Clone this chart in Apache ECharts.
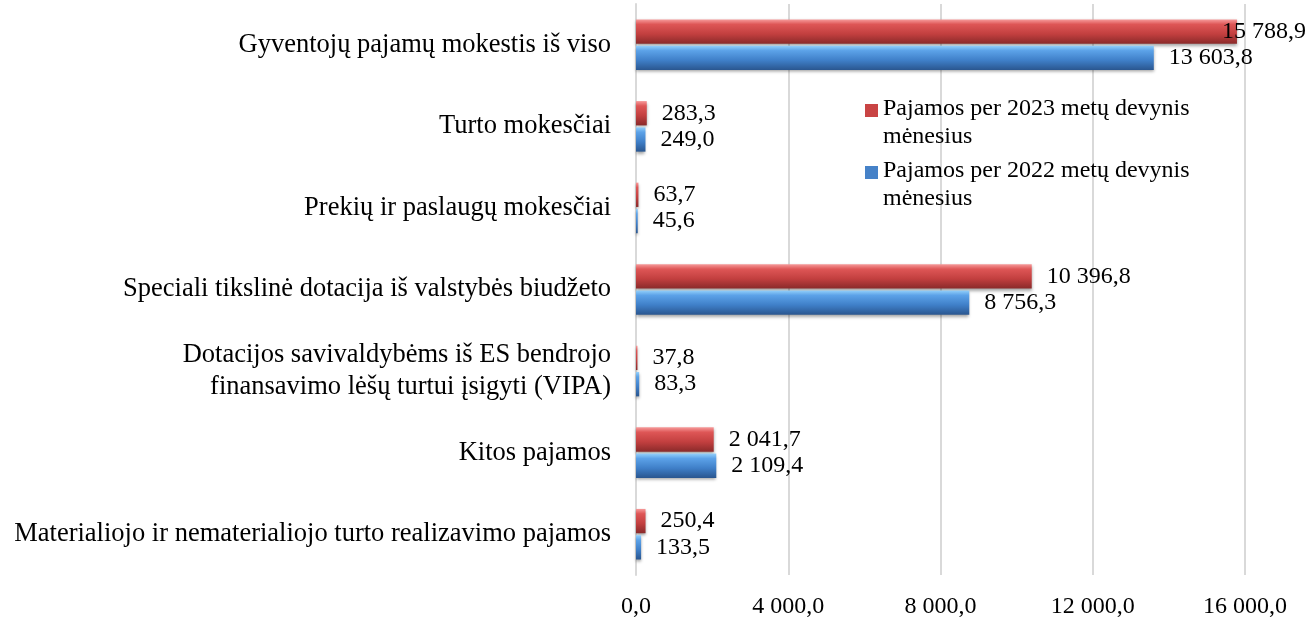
<!DOCTYPE html>
<html>
<head>
<meta charset="utf-8">
<script src="https://cdn.jsdelivr.net/npm/echarts@6/dist/echarts.min.js"></script>
<style>
    html, body {margin: 0; padding: 0; background: #fff;}
    #chart {width: 1309px; height: 619px;}
</style>
</head>
<body>
<div id="chart"></div>
<script>
const categories = [
    'Gyventojų pajamų mokestis iš viso',
    'Turto mokesčiai',
    'Prekių ir paslaugų mokesčiai',
    'Speciali tikslinė dotacija iš valstybės biudžeto',
    'Dotacijos savivaldybėms iš ES bendrojo\nfinansavimo lėšų turtui įsigyti (VIPA)',
    'Kitos pajamos',
    'Materialiojo ir nematerialiojo turto realizavimo pajamos'
];
const values2023 = [15788.9, 283.3, 63.7, 10396.8, 37.8, 2041.7, 250.4];
const values2022 = [13603.8, 249.0, 45.6, 8756.3, 83.3, 2109.4, 133.5];
const seriesNames = [
    'Pajamos per 2023 metų devynis mėnesius',
    'Pajamos per 2022 metų devynis mėnesius'
];

// 1 234,5 style
function fmt(v)
{
    let parts = v.toFixed(1).split('.');
    return parts[0].replace(/\B(?=(\d{3})+(?!\d))/g, ' ') + ',' + parts[1];
}

function grad(c)
{
    return new echarts.graphic.LinearGradient(0, 0, 0, 1, [
        {offset: 0, color: c[0]},
        {offset: 0.2, color: c[1]},
        {offset: 0.6, color: c[2]},
        {offset: 1, color: c[3]}
    ]);
}

const redShades = ['#f69a9a', '#de5656', '#c23f3f', '#8a2a2a'];
const blueShades = ['#92cffa', '#5ca2e8', '#3f7fc8', '#2a568f'];

const font = '"Liberation Serif", "Times New Roman", serif';
// square sitting at the first text line, with invisible anchor points to stretch the box
const legendIcon = 'path://M0,0L0.01,0M0,8h13v13h-13zM0,54L0.01,54';

let chart = echarts.init(document.getElementById('chart'));

function labelOpt()
{
    return {
        show: true,
        position: 'right',
        distance: 15,
        formatter: function (p) { return fmt(p.value); },
        color: '#000',
        fontSize: 24,
        fontFamily: font
    };
}

let option = {
    animation: false,
    textStyle: {fontFamily: font},
    grid: {left: 636, right: 64, top: 4, bottom: 41},
    legend: {
        orient: 'vertical',
        left: 860,
        top: 90,
        itemWidth: 13,
        itemHeight: 54,
        itemGap: 6,
        data: [
            {name: seriesNames[0], icon: legendIcon, itemStyle: {color: '#c94444'}},
            {name: seriesNames[1], icon: legendIcon, itemStyle: {color: '#4682c8'}}
        ],
        formatter: function (name)
        {
            return name.replace(' mėnesius', '\nmėnesius');
        },
        textStyle: {fontFamily: font, fontSize: 24, color: '#000', lineHeight: 28}
    },
    xAxis: {
        type: 'value',
        min: 0,
        max: 16000,
        interval: 4000,
        axisLine: {show: false},
        axisTick: {show: false},
        splitLine: {lineStyle: {color: '#d9d9d9', width: 2}},
        axisLabel: {
            formatter: fmt,
            color: '#000',
            fontSize: 24,
            fontFamily: font,
            margin: 20
        }
    },
    yAxis: {
        type: 'category',
        inverse: true,
        data: categories,
        axisLine: {lineStyle: {color: '#d9d9d9', width: 2}},
        axisTick: {show: false},
        axisLabel: {
            color: '#000',
            fontSize: 26.5,
            fontFamily: font,
            margin: 25,
            lineHeight: 32,
            align: 'right'
        }
    },
    series: [
        {
            name: seriesNames[0],
            type: 'bar',
            barCategoryGap: '38%',
            barGap: '8%',
            data: values2023.map(function (v, i)
            {
                // the longest label is pulled back over its bar, as in the original
                return i === 0 ? {value: v, label: {offset: [-30, 0]}} : v;
            }),
            itemStyle: {
                color: grad(redShades),
                shadowColor: 'rgba(0,0,0,0.35)',
                shadowBlur: 3,
                shadowOffsetY: 2
            },
            label: labelOpt()
        },
        {
            name: seriesNames[1],
            type: 'bar',
            barCategoryGap: '38%',
            barGap: '8%',
            data: values2022,
            itemStyle: {
                color: grad(blueShades),
                shadowColor: 'rgba(0,0,0,0.35)',
                shadowBlur: 3,
                shadowOffsetY: 2
            },
            label: labelOpt()
        }
    ]
};

chart.setOption(option);
</script>
</body>
</html>
